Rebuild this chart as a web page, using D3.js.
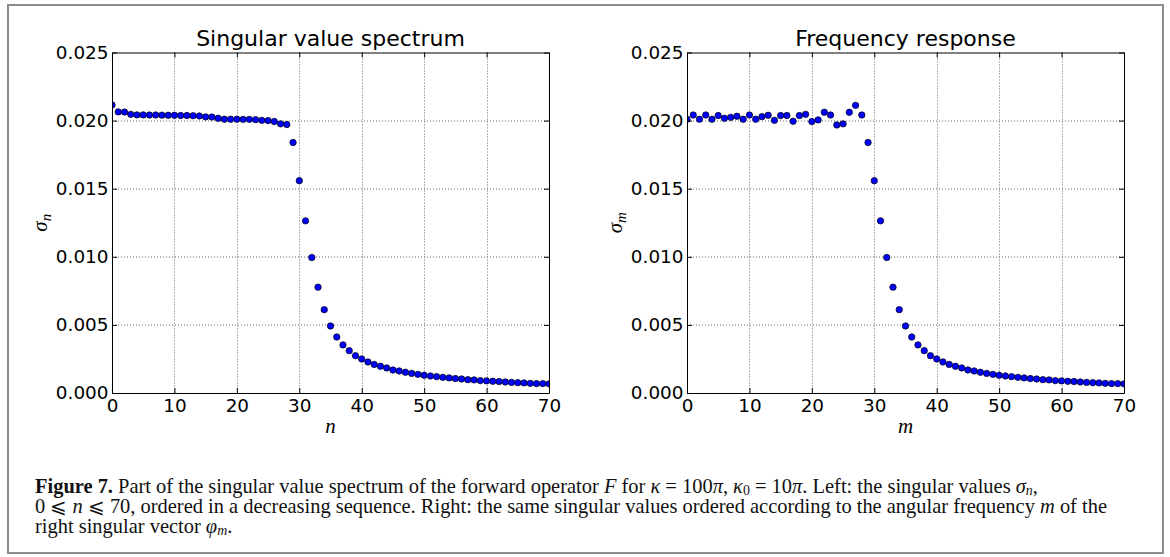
<!DOCTYPE html>
<html lang="en">
<head>
<meta charset="UTF-8">
<title>Singular value spectrum</title>
<script src="https://d3js.org/d3.v7.min.js"></script>
<style>
    body { margin: 0; background: #fff; }
    svg { display: block; }
    .axis path, .axis line { fill: none; stroke: #000; stroke-width: 1; }
    .axis text { font-family: "DejaVu Sans", sans-serif; font-size: 18.4px; fill: #000; }
    .grid line { stroke: #6a6a6a; stroke-width: 1; stroke-dasharray: 1,2; }
    .title { font-family: "DejaVu Sans", sans-serif; font-size: 22px; text-anchor: middle; }
    .label { font-family: "Liberation Serif", serif; font-style: italic; font-size: 21px; }
    .caption { font-family: "Liberation Serif", serif; fill: #111; }
</style>
</head>
<body>
<svg width="1170" height="557"></svg>
<script>
// singular values sigma_n, n = 0..70, in decreasing order
const sigmaN = [
    0.02115, 0.02064, 0.02063, 0.02046, 0.02042, 0.02042, 0.02041, 0.02041, 0.02040, 0.02039,
    0.02039, 0.02037, 0.02037, 0.02036, 0.02034, 0.02027, 0.02026, 0.02017, 0.02010, 0.02010,
    0.02010, 0.02009, 0.02009, 0.02007, 0.02002, 0.02000, 0.01993, 0.01976, 0.01971, 0.01839,
    0.01559, 0.01264, 0.00995, 0.00777, 0.00612, 0.00492, 0.00411, 0.00353, 0.00311, 0.00274,
    0.00250, 0.00228, 0.00210, 0.00196, 0.00184, 0.00169, 0.00162, 0.00152, 0.00144, 0.00137,
    0.00130, 0.00125, 0.00120, 0.00115, 0.00111, 0.00106, 0.00103, 0.00098, 0.00096, 0.00091,
    0.00089, 0.00086, 0.00084, 0.00081, 0.00078, 0.00076, 0.00074, 0.00071, 0.00069, 0.00069,
    0.00067
];

// the same values ordered by angular frequency m
const sigmaM = [
    0.02010, 0.02041, 0.02010, 0.02041, 0.02010, 0.02037, 0.02017, 0.02024, 0.02032, 0.02010,
    0.02041, 0.02010, 0.02029, 0.02039, 0.02002, 0.02037, 0.02037, 0.01995, 0.02037, 0.02046,
    0.01993, 0.02005, 0.02061, 0.02041, 0.01968, 0.01976, 0.02061, 0.02112, 0.02041, 0.01839,
    0.01559, 0.01264, 0.00995, 0.00777, 0.00612, 0.00492, 0.00411, 0.00353, 0.00311, 0.00274,
    0.00250, 0.00228, 0.00210, 0.00196, 0.00184, 0.00169, 0.00162, 0.00152, 0.00144, 0.00137,
    0.00130, 0.00125, 0.00120, 0.00115, 0.00111, 0.00106, 0.00103, 0.00098, 0.00096, 0.00091,
    0.00089, 0.00086, 0.00084, 0.00081, 0.00078, 0.00076, 0.00074, 0.00071, 0.00069, 0.00069,
    0.00067
];

const xTicks = [0, 10, 20, 30, 40, 50, 60, 70];
const yTicks = [0.000, 0.005, 0.010, 0.015, 0.020, 0.025];
const titles = ["Singular value spectrum", "Frequency response"];
const varNames = ["n", "m"];

const svg = d3.select("svg");

// outer frame
svg.append("rect")
    .attr("x", 8).attr("y", 5)
    .attr("width", 1155).attr("height", 548)
    .attr("fill", "none")
    .attr("stroke", "#8c8c8c")
    .attr("stroke-width", 2);

const plotTop = 52.5, w = 437, h = 340.5;

function drawPanel(left, idx, values) {
    const g = svg.append("g").attr("transform", `translate(${left},${plotTop})`);
    const x = d3.scaleLinear().domain([0, 70]).range([0, w]);
    const y = d3.scaleLinear().domain([0, 0.025]).range([h, 0]);

    // dotted grid
    const grid = g.append("g").attr("class", "grid");
    grid.selectAll(".gx").data(xTicks.slice(1, -1)).join("line")
        .attr("class", "gx")
        .attr("x1", d => Math.round(x(d)) + 0.5).attr("x2", d => Math.round(x(d)) + 0.5)
        .attr("y1", 0).attr("y2", h);
    grid.selectAll(".gy").data(yTicks.slice(1, -1)).join("line")
        .attr("class", "gy")
        .attr("x1", 0).attr("x2", w)
        .attr("y1", d => Math.round(y(d)) + 0.5).attr("y2", d => Math.round(y(d)) + 0.5);

    // markers, clipped to the axes box
    const clipId = "clip" + idx;
    g.append("clipPath").attr("id", clipId)
        .append("rect").attr("width", w).attr("height", h);
    g.append("g").attr("clip-path", `url(#${clipId})`)
        .selectAll("circle").data(values).join("circle")
        .attr("cx", (d, i) => x(i))
        .attr("cy", d => y(d))
        .attr("r", 3.2)
        .attr("fill", "#0000ff")
        .attr("stroke", "#000")
        .attr("stroke-width", 0.7);

    // axes with inward ticks on all four sides
    g.append("g").attr("class", "axis")
        .attr("transform", `translate(0,${h})`)
        .call(d3.axisBottom(x).tickValues(xTicks).tickSizeInner(-5).tickSizeOuter(0).tickPadding(6));
    g.append("g").attr("class", "axis")
        .call(d3.axisTop(x).tickValues(xTicks).tickSizeInner(-5).tickSizeOuter(0).tickFormat(""));
    g.append("g").attr("class", "axis")
        .call(d3.axisLeft(y).tickValues(yTicks).tickSizeInner(-5).tickSizeOuter(0).tickPadding(3.5)
            .tickFormat(d3.format(".3f")));
    g.append("g").attr("class", "axis")
        .attr("transform", `translate(${w},0)`)
        .call(d3.axisRight(y).tickValues(yTicks).tickSizeInner(-5).tickSizeOuter(0).tickFormat(""));

    // title
    g.append("text").attr("class", "title")
        .attr("x", w / 2).attr("y", -6.5)
        .text(titles[idx]);

    // x label
    g.append("text").attr("class", "label")
        .attr("x", w / 2).attr("y", h + 40)
        .attr("text-anchor", "middle")
        .text(varNames[idx]);

    // y label: sigma with subscript
    const yl = g.append("text").attr("class", "label")
        .attr("transform", `translate(-65,${h / 2}) rotate(-90)`)
        .attr("text-anchor", "middle");
    yl.append("tspan").text("σ");
    yl.append("tspan").attr("dy", 4).attr("font-size", "15px").text(varNames[idx]);
}

drawPanel(112, 0, sigmaN);
drawPanel(687, 1, sigmaM);

// caption, three lines of mixed styles
const captionLines = [
    [["Figure 7.", "b"], [" Part of the singular value spectrum of the forward operator ", ""], ["F", "i"],
     [" for ", ""], ["κ", "i"], [" = 100", ""], ["π", "i"], [", ", ""], ["κ", "i"], ["0", "sub"],
     [" = 10", ""], ["π", "i"], [". Left: the singular values ", ""], ["σ", "i"], ["n", "isub"], [",", ""]],
    [["0 ⩽ ", ""], ["n", "i"], [" ⩽ 70, ordered in a decreasing sequence. Right: the same singular values ordered according to the angular frequency ", ""],
     ["m", "i"], [" of the", ""]],
    [["right singular vector ", ""], ["φ", "i"], ["m", "isub"], [".", ""]]
];
const captionY = [493, 513, 533];

function drawCaption(fs) {
    svg.selectAll(".caption").remove();
    const nodes = captionLines.map((segs, li) => {
        const t = svg.append("text").attr("class", "caption")
            .attr("x", 35).attr("y", captionY[li])
            .attr("font-size", fs + "px");
        let shifted = false;
        segs.forEach(([str, st]) => {
            const sp = t.append("tspan").text(str);
            if (st === "b") sp.attr("font-weight", "bold");
            if (st === "i" || st === "isub") sp.attr("font-style", "italic");
            if (st === "sub" || st === "isub") {
                sp.attr("font-size", (fs * 0.68) + "px").attr("dy", fs * 0.09);
                shifted = true;
            } else if (shifted) {
                sp.attr("dy", -fs * 0.09);
                shifted = false;
            }
        });
        return t.node();
    });
    return nodes[1].getComputedTextLength();
}

// fit the second caption line to its width in the figure
const len0 = drawCaption(17);
drawCaption(17 * 1072 / len0);
</script>
</body>
</html>
